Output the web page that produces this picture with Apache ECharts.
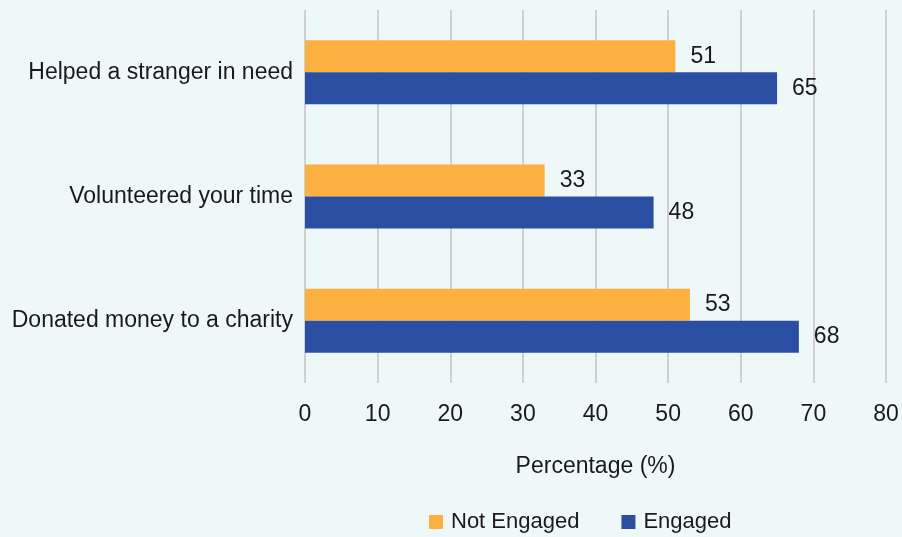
<!DOCTYPE html>
<html>
<head>
<meta charset="utf-8">
<script src="https://cdn.jsdelivr.net/npm/echarts@6/dist/echarts.min.js"></script>
<style>
  html, body { margin: 0; padding: 0; background: #EEF8F9; }
  #chart { width: 902px; height: 537px; }
</style>
</head>
<body>
<div id="chart"></div>
<script>
// Activities, listed top to bottom
const categories = ['Helped a stranger in need', 'Volunteered your time', 'Donated money to a charity'];
const notEngaged = [51, 33, 53];
const engaged = [65, 48, 68];
const xTicks = [0, 10, 20, 30, 40, 50, 60, 70, 80];

const FONT = '"Liberation Sans Narrow", sans-serif';
const TEXT = '#1a1a1a';

const chart = echarts.init(document.getElementById('chart'));
chart.setOption({
  backgroundColor: '#EEF8F9',
  textStyle: { fontFamily: FONT },
  grid: { left: 305, right: 16, top: 10, bottom: 154 },
  legend: {
    data: ['Not Engaged', 'Engaged'],
    top: 511,
    left: 429,
    padding: 0,
    itemWidth: 14,
    itemHeight: 14,
    itemGap: 42,
    icon: 'rect',
    textStyle: { fontFamily: FONT, fontSize: 22, color: TEXT, padding: [0, 0, 0, 3] }
  },
  xAxis: {
    type: 'value',
    min: xTicks[0],
    max: xTicks[xTicks.length - 1],
    interval: 10,
    name: 'Percentage (%)',
    nameLocation: 'middle',
    nameGap: 72,
    nameTextStyle: { fontFamily: FONT, fontSize: 23, color: TEXT },
    axisLine: { show: false },
    axisTick: { show: false },
    axisLabel: { fontFamily: FONT, fontSize: 23, color: TEXT, margin: 20 },
    splitLine: { show: true, lineStyle: { color: '#D0D0D0', width: 2 } }
  },
  yAxis: {
    type: 'category',
    data: categories,
    inverse: true,
    axisLine: { show: false },
    axisTick: { show: false },
    axisLabel: { fontFamily: FONT, fontSize: 23, color: TEXT, margin: 12 }
  },
  series: [
    {
      name: 'Not Engaged',
      type: 'bar',
      data: notEngaged,
      barWidth: 32,
      barGap: '0%',
      itemStyle: { color: '#FBB040' },
      label: { show: true, position: 'right', distance: 15, fontFamily: FONT, fontSize: 23, color: TEXT }
    },
    {
      name: 'Engaged',
      type: 'bar',
      data: engaged,
      barWidth: 32,
      barGap: '0%',
      itemStyle: { color: '#2A4EA1' },
      label: { show: true, position: 'right', distance: 15, fontFamily: FONT, fontSize: 23, color: TEXT }
    }
  ]
});
</script>
</body>
</html>
